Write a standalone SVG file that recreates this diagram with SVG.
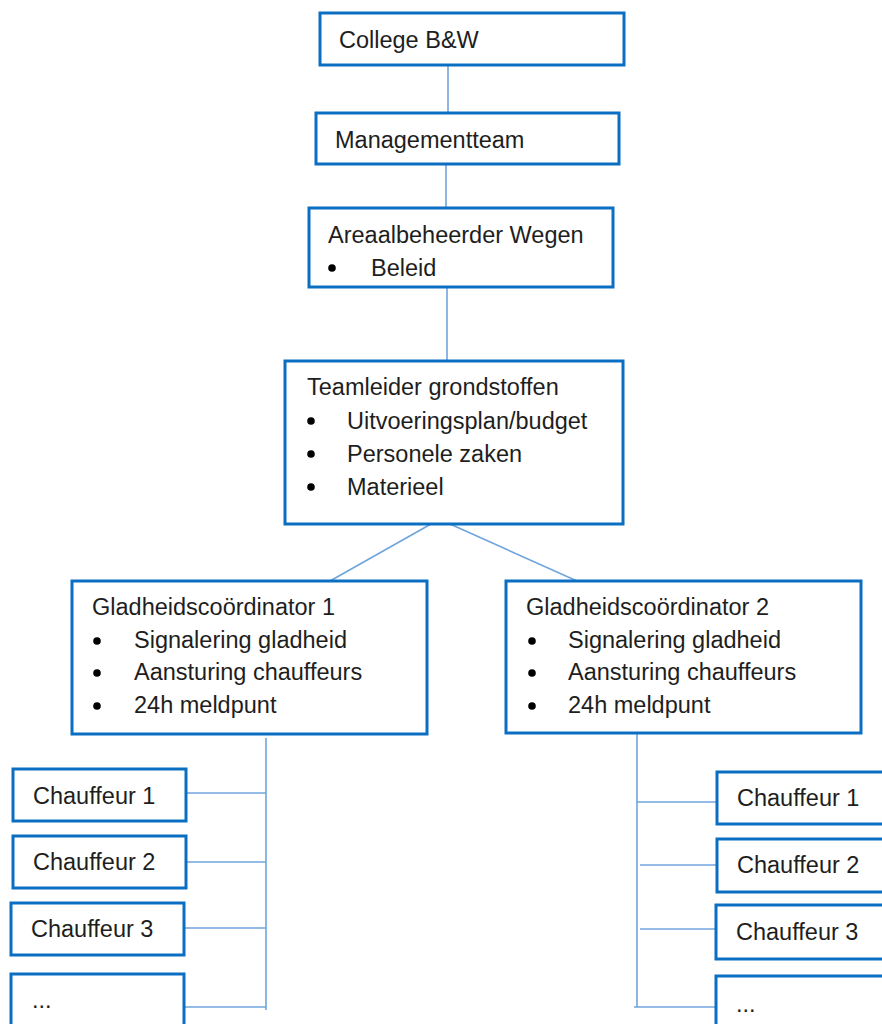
<svg xmlns="http://www.w3.org/2000/svg" width="882" height="1024" viewBox="0 0 882 1024">
<style>
.box{fill:#fff;stroke:#0a6fc2;stroke-width:3}
.conn{stroke:#6fa5dc;stroke-width:1.6;fill:none}
text{font-family:"Liberation Sans",Arial,sans-serif;font-size:23.5px;fill:#1e1e1e}
.b{fill:#000}
</style>
<rect width="882" height="1024" fill="#fff"/>
<g id="connectors">
<line class="conn" x1="448" y1="65" x2="448" y2="113"/>
<line class="conn" x1="446" y1="164" x2="446" y2="208"/>
<line class="conn" x1="447" y1="287" x2="447" y2="361"/>
<line class="conn" x1="431" y1="524" x2="330" y2="581"/>
<line class="conn" x1="450" y1="524" x2="577" y2="581"/>
<line class="conn" x1="266" y1="738" x2="266" y2="1010"/>
<line class="conn" x1="186" y1="793" x2="266" y2="793"/>
<line class="conn" x1="186" y1="862" x2="266" y2="862"/>
<line class="conn" x1="184" y1="928" x2="266" y2="928"/>
<line class="conn" x1="184" y1="1007" x2="266" y2="1007"/>
<line class="conn" x1="637" y1="733" x2="637" y2="1007"/>
<line class="conn" x1="634" y1="1007" x2="716" y2="1007"/>
<line class="conn" x1="637" y1="802" x2="717" y2="802"/>
<line class="conn" x1="640" y1="865" x2="717" y2="865"/>
<line class="conn" x1="640" y1="929" x2="716" y2="929"/>
</g>
<g id="college">
<rect class="box" x="320" y="13" width="304" height="52"/>
<text x="339" y="48">College B&amp;W</text>
</g>
<g id="management">
<rect class="box" x="316" y="113" width="303" height="51"/>
<text x="335" y="148">Managementteam</text>
</g>
<g id="areaal">
<rect class="box" x="309" y="208" width="304" height="79"/>
<text x="328" y="243">Areaalbeheerder Wegen</text>
<circle class="b" cx="332" cy="268" r="3.8"/>
<text x="371" y="276">Beleid</text>
</g>
<g id="teamleider">
<rect class="box" x="285" y="361" width="338" height="163"/>
<text x="307" y="395">Teamleider grondstoffen</text>
<circle class="b" cx="311" cy="421" r="3.8"/>
<text x="347" y="429">Uitvoeringsplan/budget</text>
<circle class="b" cx="311" cy="454" r="3.8"/>
<text x="347" y="462">Personele zaken</text>
<circle class="b" cx="311" cy="487" r="3.8"/>
<text x="347" y="495">Materieel</text>
</g>
<g id="glad1">
<rect class="box" x="72" y="581" width="355" height="153"/>
<text x="92" y="615">Gladheidscoördinator 1</text>
<circle class="b" cx="97" cy="641" r="3.8"/>
<text x="134" y="648">Signalering gladheid</text>
<circle class="b" cx="97" cy="673" r="3.8"/>
<text x="134" y="680">Aansturing chauffeurs</text>
<circle class="b" cx="97" cy="706" r="3.8"/>
<text x="134" y="713">24h meldpunt</text>
</g>
<g id="glad2">
<rect class="box" x="506" y="581" width="355" height="152"/>
<text x="526" y="615">Gladheidscoördinator 2</text>
<circle class="b" cx="532" cy="641" r="3.8"/>
<text x="568" y="648">Signalering gladheid</text>
<circle class="b" cx="532" cy="673" r="3.8"/>
<text x="568" y="680">Aansturing chauffeurs</text>
<circle class="b" cx="532" cy="706" r="3.8"/>
<text x="568" y="713">24h meldpunt</text>
</g>
<g id="l-chauffeur1">
<rect class="box" x="13" y="769" width="173" height="52"/>
<text x="33" y="804">Chauffeur 1</text>
</g>
<g id="l-chauffeur2">
<rect class="box" x="13" y="836" width="173" height="52"/>
<text x="33" y="870">Chauffeur 2</text>
</g>
<g id="l-chauffeur3">
<rect class="box" x="11" y="903" width="173" height="52"/>
<text x="31" y="937">Chauffeur 3</text>
</g>
<g id="l-more">
<rect class="box" x="11" y="974" width="173" height="70"/>
<text x="32" y="1008">...</text>
</g>
<g id="r-chauffeur1">
<rect class="box" x="717" y="772" width="200" height="52"/>
<text x="737" y="806">Chauffeur 1</text>
</g>
<g id="r-chauffeur2">
<rect class="box" x="717" y="839" width="200" height="53"/>
<text x="737" y="873">Chauffeur 2</text>
</g>
<g id="r-chauffeur3">
<rect class="box" x="716" y="905" width="200" height="54"/>
<text x="736" y="940">Chauffeur 3</text>
</g>
<g id="r-more">
<rect class="box" x="716" y="976" width="200" height="70"/>
<text x="736" y="1012">...</text>
</g>
</svg>
